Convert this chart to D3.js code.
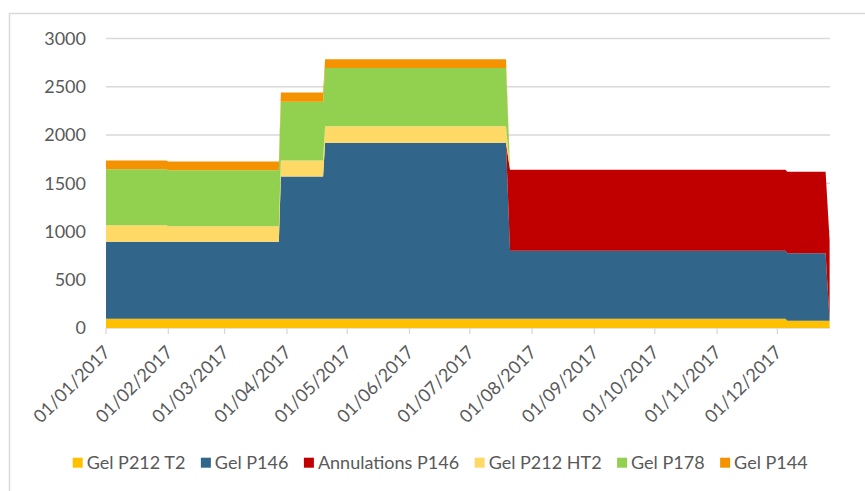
<!DOCTYPE html>
<html>
<head>
<meta charset="utf-8">
<script src="https://cdn.jsdelivr.net/npm/d3@7"></script>
<style>
  body { margin: 0; background: #fff; }
  text { font-family: Lato, "Open Sans", sans-serif; fill: #595959; }
</style>
</head>
<body>
<svg id="chart"></svg>
<script>
const dates = ["2017-01-01", "2017-01-31", "2017-02-01", "2017-03-28", "2017-03-29",
  "2017-04-19", "2017-04-20", "2017-07-19", "2017-07-21", "2017-12-05",
  "2017-12-06", "2017-12-25", "2017-12-27"];

const gelP212T2 = [95, 95, 95, 95, 95, 95, 95, 95, 95, 95, 75, 75, 75];
const gelP146 = [800, 800, 800, 800, 1475, 1475, 1825, 1825, 705, 705, 700, 700, 0];
const annulationsP146 = [0, 0, 0, 0, 0, 0, 0, 0, 840, 840, 845, 845, 835];
const gelP212HT2 = [170, 170, 160, 160, 165, 165, 170, 170, 0, 0, 0, 0, 0];
const gelP178 = [580, 580, 580, 580, 610, 610, 605, 605, 0, 0, 0, 0, 0];
const gelP144 = [90, 90, 90, 90, 95, 95, 90, 90, 0, 0, 0, 0, 0];

const seriesNames = ["Gel P212 T2", "Gel P146", "Annulations P146", "Gel P212 HT2", "Gel P178", "Gel P144"];
const seriesValues = [gelP212T2, gelP146, annulationsP146, gelP212HT2, gelP178, gelP144];
const colors = ["#FFC000", "#31658A", "#C00000", "#FFD966", "#92D050", "#F59200"];
const yTicks = [0, 500, 1000, 1500, 2000, 2500, 3000];

const width = 865, height = 491;
const svg = d3.select("#chart").attr("width", width).attr("height", height);

// chart border
svg.append("rect")
  .attr("x", 9.5).attr("y", 13.5)
  .attr("width", width + 10).attr("height", height + 10)
  .attr("fill", "none").attr("stroke", "#d9d9d9").attr("stroke-width", 1.5);

const parse = d3.utcParse("%Y-%m-%d");
const rows = dates.map((d, i) => {
  const row = { date: parse(d) };
  seriesNames.forEach((name, k) => { row[name] = seriesValues[k][i]; });
  return row;
});

const x = d3.scaleUtc()
  .domain([parse(dates[0]), parse(dates[dates.length - 1])])
  .range([106, 829.6]);
const y = d3.scaleLinear().domain([0, 3000]).range([328, 38.5]);

// gridlines
svg.append("g")
  .selectAll("line")
  .data(yTicks.slice(1))
  .enter()
  .append("line")
  .attr("x1", 106).attr("x2", 830)
  .attr("y1", (d) => y(d)).attr("y2", (d) => y(d))
  .attr("stroke", "#d9d9d9").attr("stroke-width", 1.3);

// y labels
svg.append("g")
  .selectAll("text")
  .data(yTicks)
  .enter()
  .append("text")
  .attr("x", 86).attr("y", (d) => y(d))
  .attr("dy", "0.36em")
  .attr("text-anchor", "end")
  .style("font-size", "18px")
  .text((d) => d);

// x axis line + ticks
const months = d3.utcMonth.range(parse("2017-01-01"), parse("2017-12-02"));
svg.append("line")
  .attr("x1", 106).attr("x2", 830).attr("y1", 328).attr("y2", 328)
  .attr("stroke", "#d9d9d9").attr("stroke-width", 1.3);
svg.append("g")
  .selectAll("line")
  .data(months)
  .enter()
  .append("line")
  .attr("x1", (d) => x(d)).attr("x2", (d) => x(d))
  .attr("y1", 328).attr("y2", 334)
  .attr("stroke", "#d9d9d9").attr("stroke-width", 1.3);

const fmt = d3.utcFormat("%d/%m/%Y");
svg.append("g")
  .selectAll("text")
  .data(months)
  .enter()
  .append("text")
  .attr("transform", (d) => `translate(${x(d) + 1},349) rotate(-45)`)
  .attr("text-anchor", "end")
  .attr("dy", "0.35em")
  .style("font-size", "18px")
  .text((d) => fmt(d));

// stacked areas
const stacked = d3.stack().keys(seriesNames)(rows);
const area = d3.area()
  .x((d) => x(d.data.date))
  .y0((d) => y(d[0]))
  .y1((d) => y(d[1]));

svg.append("g")
  .selectAll("path")
  .data(stacked)
  .enter()
  .append("path")
  .attr("d", area)
  .attr("fill", (d, i) => colors[i]);

// legend
const legend = svg.append("g");
let lx = 72.7;
seriesNames.forEach((name, i) => {
  legend.append("rect")
    .attr("x", lx).attr("y", 457.7)
    .attr("width", 10).attr("height", 10)
    .attr("fill", colors[i]);
  const t = legend.append("text")
    .attr("x", lx + 14).attr("y", 462.7)
    .attr("dy", "0.36em")
    .style("font-size", "18px")
    .text(name);
  lx += 14 + t.node().getComputedTextLength() + 15.5;
});
</script>
</body>
</html>
